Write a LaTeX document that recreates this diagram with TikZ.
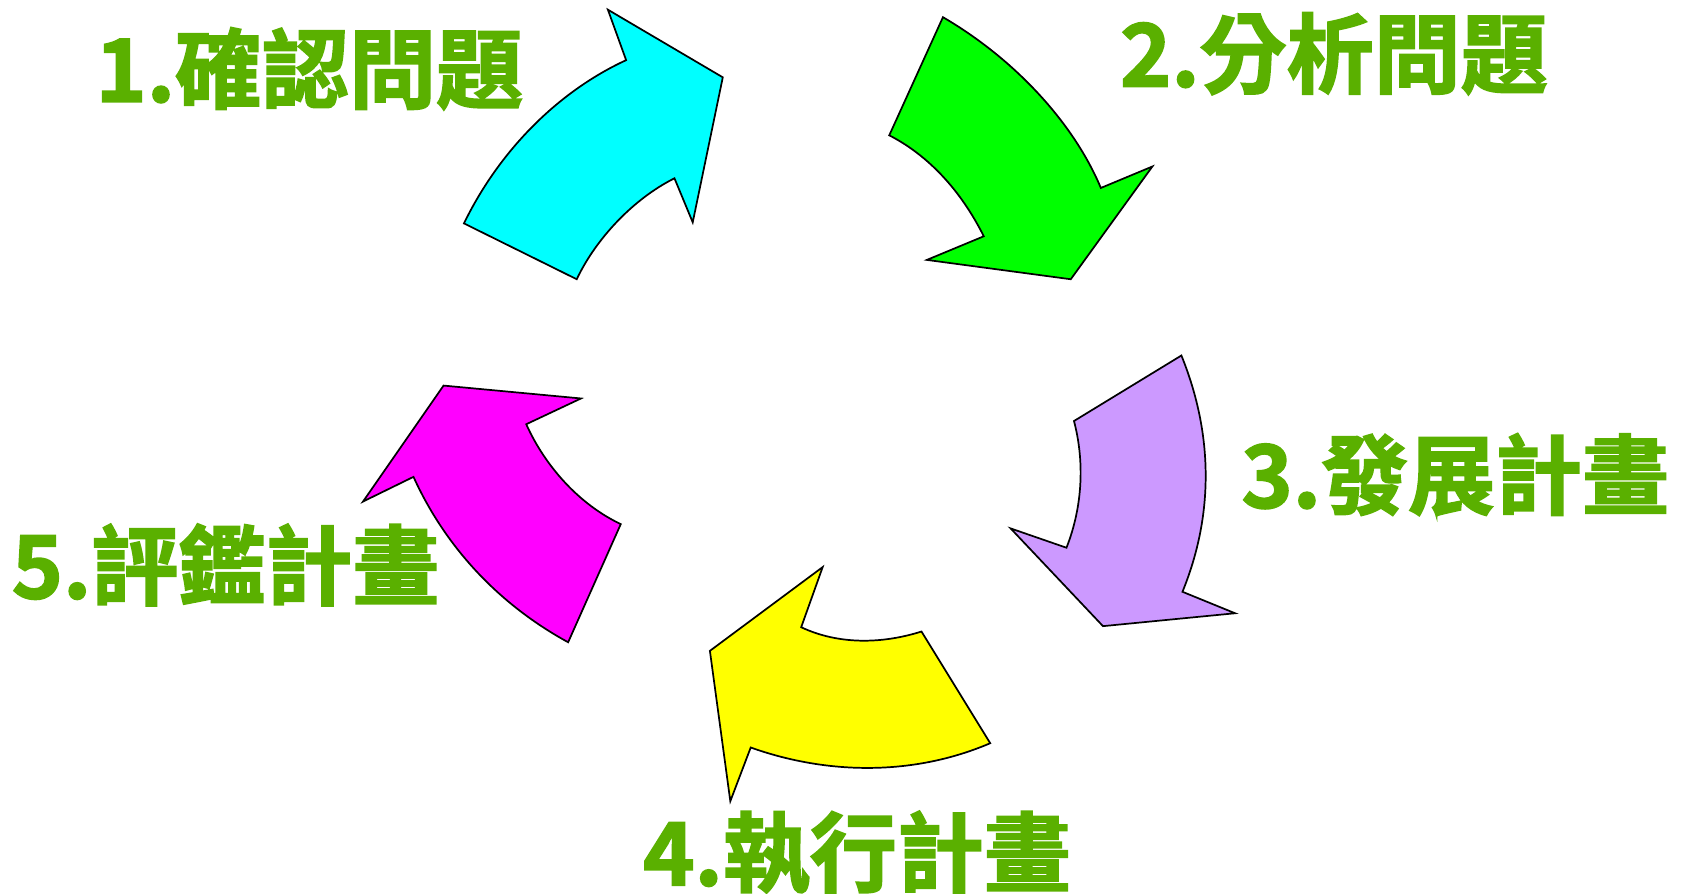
\documentclass[tikz,border=0pt]{standalone}
\usepackage{fontspec}
\newfontfamily\cjk{Noto Sans CJK TC}[BoldFont={* Bold},BoldFeatures={FakeBold=2}]
\definecolor{lblgreen}{RGB}{90,176,0}
\definecolor{acyan}{RGB}{0,255,255}
\definecolor{agreen}{RGB}{0,255,0}
\definecolor{alav}{RGB}{204,153,255}
\definecolor{ayellow}{RGB}{255,255,0}
\definecolor{amagenta}{RGB}{255,0,255}
\begin{document}
\begin{tikzpicture}[x=0.5pt,y=-0.5pt,
  arr/.style={draw=black,line width=0.8pt,line join=miter},
  lbl/.style={text=lblgreen,font=\cjk\bfseries\fontsize{40.5}{41}\selectfont,inner sep=0pt}]
\useasboundingbox (0,0) rectangle (1568,832);
% 1 cyan
\filldraw[arr,fill=acyan] (566,9) -- (673,72) -- (645,207) -- (628,166)
  .. controls (590,185) and (555,222) .. (537,260) -- (432,208)
  .. controls (465,140) and (520,85) .. (583,56) -- cycle;
% 2 green
\filldraw[arr,fill=agreen] (878,16) .. controls (945,55) and (1000,115) .. (1025,175)
  -- (1073,155) -- (997,260) -- (863,242) -- (916,220)
  .. controls (895,178) and (865,145) .. (828,126) -- cycle;
% 3 lavender
\filldraw[arr,fill=alav] (1100,331) .. controls (1130,405) and (1130,480) .. (1101,551)
  -- (1150,571) -- (1027,583) -- (941,492) -- (993,510)
  .. controls (1008,472) and (1010,430) .. (1000,392) -- cycle;
% 4 yellow
\filldraw[arr,fill=ayellow] (858,588) .. controls (820,600) and (780,600) .. (746,584)
  -- (766,528) -- (661,606) -- (680,746) -- (699,696)
  .. controls (772,722) and (852,722) .. (922,692) -- cycle;
% 5 magenta
\filldraw[arr,fill=amagenta] (413,359) -- (541,371) -- (490,395)
  .. controls (508,435) and (540,470) .. (578,488) -- (529,598)
  .. controls (465,563) and (415,510) .. (385,444) -- (338,467) -- cycle;
% labels
\node[lbl] (l1) at (288,64) {1.確認問題};
\node[lbl] (l2) at (1242,50) {2.分析問題};
\node[lbl] (l3) at (1355,442) {3.發展計畫};
\node[lbl] (l4) at (798,794) {4.執行計畫};
\node[lbl] (l5) at (210,526) {5.評鑑計畫};
\end{tikzpicture}
\end{document}
